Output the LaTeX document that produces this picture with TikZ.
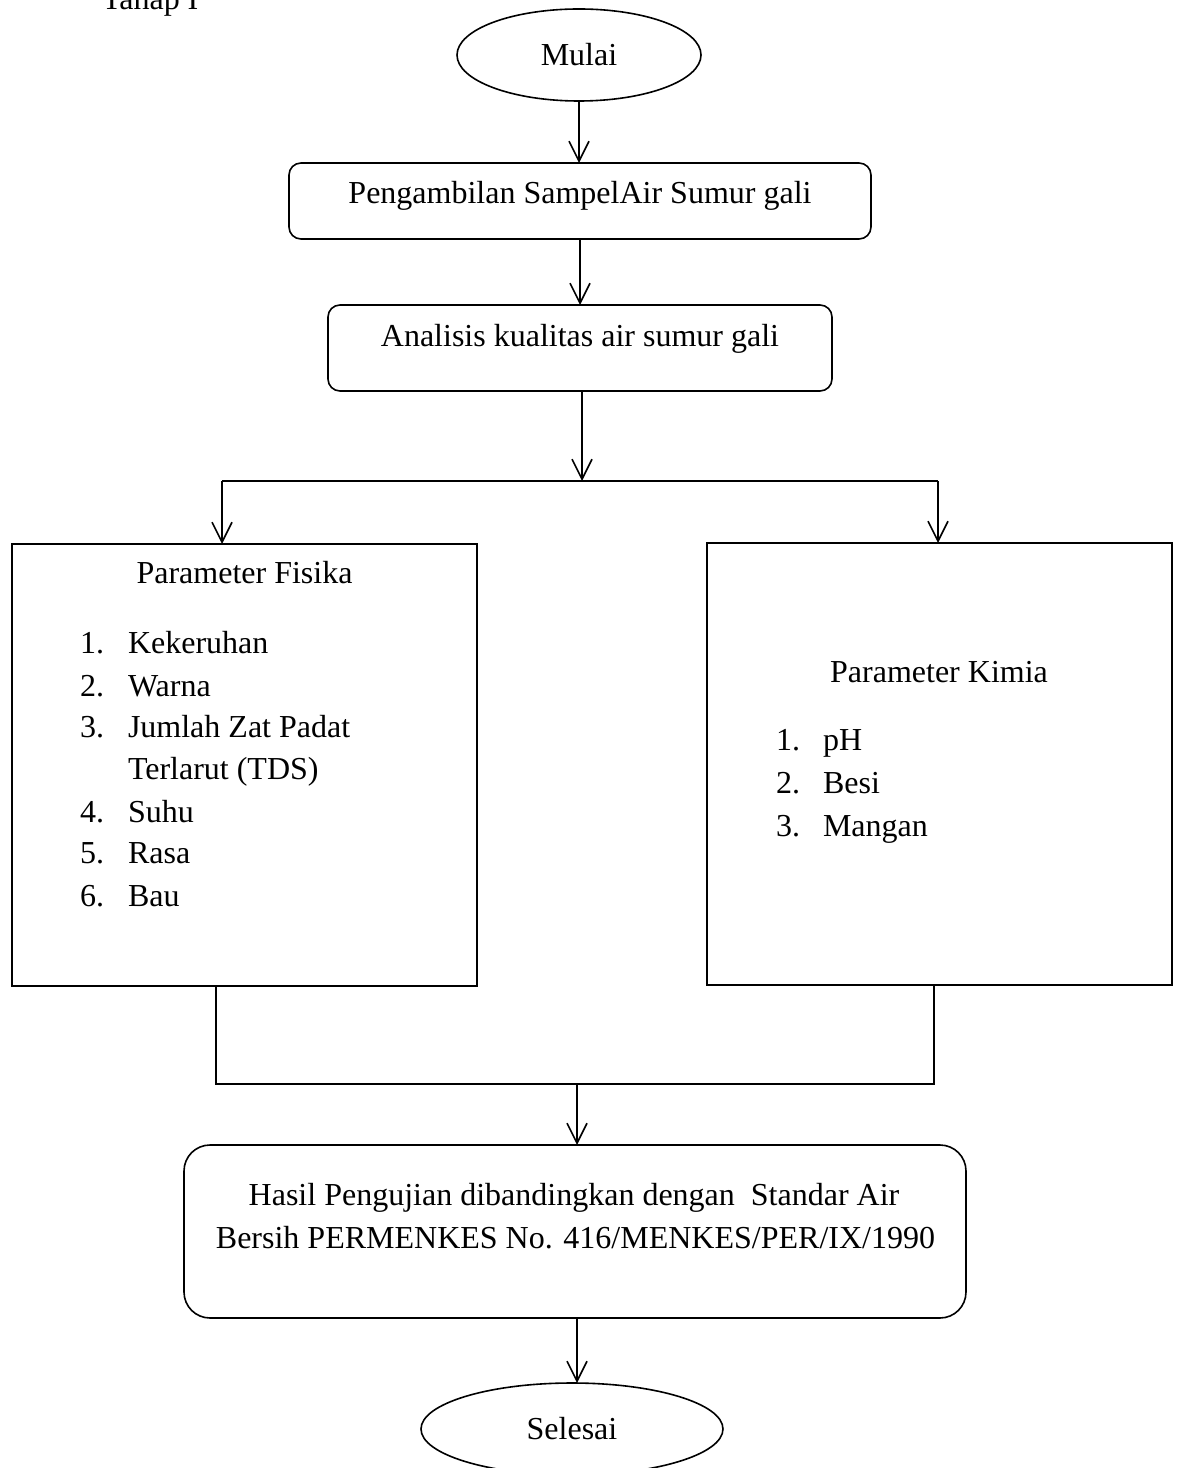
\documentclass[tikz,border=0pt]{standalone}
\usepackage{fontspec}
\setmainfont{Liberation Serif}
\usetikzlibrary{shapes.geometric,arrows.meta}

\begin{document}
\begin{tikzpicture}[x=0.375pt, y=-0.375pt, line width=0.6pt,
  font=\fontsize{12pt}{14pt}\selectfont,
  every node/.style={inner sep=0pt, outer sep=0pt},
  arr/.style={-{Straight Barb[length=7.5pt, width=7.5pt]}},
  terminal/.style={draw, ellipse, minimum height=34.5pt},
  proc/.style={draw, rectangle, rounded corners=4.5pt},
  param/.style={draw, rectangle},
  txt/.style={anchor=base},
  item/.style={anchor=base west}]

  \newcommand\U{0.375pt}

  \useasboundingbox (0,0) rectangle (1176,1468);

  \node[item] (tahap) at (102,10) {Tahap I};

  \node[terminal, minimum width=244*\U] (mulai) at (579,55) {Mulai};

  \node[proc, minimum width=582*\U, minimum height=76*\U] (ambil) at (580,201) {};
  \node[txt] (ambiltxt) at (580,204) {Pengambilan SampelAir Sumur gali};

  \node[proc, minimum width=504*\U, minimum height=86*\U] (analisis) at (580,348) {};
  \node[txt] (analisistxt) at (580,347) {Analisis kualitas air sumur gali};

  %% parameter boxes
  \node[param, minimum width=465*\U, minimum height=442*\U] (fisika) at (244.5,765) {};
  \node[param, minimum width=465*\U, minimum height=442*\U] (kimia) at (939.5,764) {};

  \node[txt] (fisikatxt) at (244.5,583) {Parameter Fisika};
  \foreach \i/\t/\yy in {1/Kekeruhan/653, 2/Warna/696, 3/Jumlah Zat Padat/737,
                         4/Suhu/822, 5/Rasa/863, 6/Bau/906}
  {
    \node[item] (fisnum\i) at (80,\yy) {\i.};
    \node[item] (fis\i) at (128,\yy) {\t};
  }
  \node[item] (fis3b) at (128,779) {Terlarut (TDS)};

  \node[txt] (kimiatxt) at (939,682) {Parameter Kimia};
  \foreach \i/\t/\yy in {1/pH/750, 2/Besi/793, 3/Mangan/836}
  {
    \node[item] (kimnum\i) at (776,\yy) {\i.};
    \node[item] (kim\i) at (823,\yy) {\t};
  }

  \node[proc, rounded corners=9.75pt, minimum width=782*\U, minimum height=173*\U] (hasil) at (575,1231.5) {};
  \node[txt] (hasil1) at (574,1205) {Hasil Pengujian dibandingkan dengan\ \ Standar Air};
  \node[txt] (hasil2) at (575.5,1248) {Bersih PERMENKES No. 416/MENKES/PER/IX/1990};

  \node[terminal, minimum width=302*\U] (selesai) at (572,1429) {Selesai};

  %% connectors
  \coordinate (split) at (582,481);
  \coordinate (splitL) at (222,481);
  \coordinate (splitR) at (938,481);
  \coordinate (joinL) at (216,1084);
  \coordinate (joinR) at (934,1084);
  \coordinate (join) at (577,1084);

  \draw[arr] (mulai.south) -- (mulai.south |- ambil.north);
  \draw[arr] (ambil.south) -- (ambil.south |- analisis.north);
  \draw[arr] (analisis.south -| split) -- (split);

  \draw (splitL) -- (splitR);
  \draw[arr] (splitL) -- (splitL |- fisika.north);
  \draw[arr] (splitR) -- (splitR |- kimia.north);

  \draw (joinL |- fisika.south) -- (joinL) -- (joinR) -- (joinR |- kimia.south);
  \draw[arr] (join) -- (join |- hasil.north);
  \draw[arr] (hasil.south -| join) -- (join |- selesai.north);

\end{tikzpicture}
\end{document}
